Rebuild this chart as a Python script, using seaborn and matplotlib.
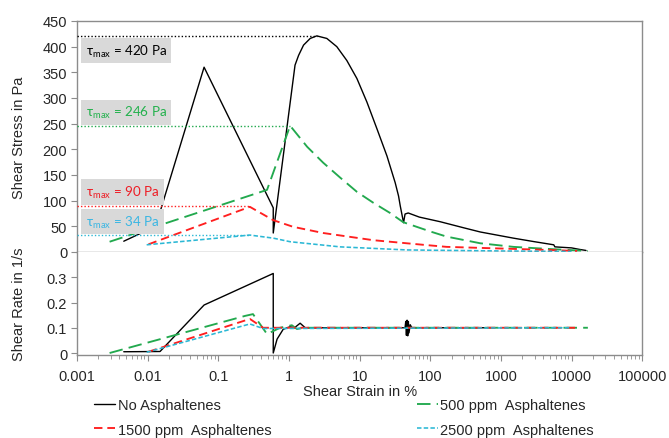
import matplotlib
matplotlib.use("Agg")
import matplotlib.pyplot as plt
import seaborn as sns

# Shear stress curves (strain in %, stress in Pa)
strain_none = [0.0046, 0.013, 0.063, 0.6, 0.6, 1.22, 1.37, 1.61, 2.0, 2.48, 3.44, 4.76,
               6.6, 9.16, 12.7, 17.6, 24.4, 31.9, 35.6, 37.6, 41.9, 44, 48.8, 70, 138,
               300, 510, 1500, 3000, 5600, 5800, 10000, 13000, 16000]
stress_none = [21, 50, 360, 86, 37, 364, 383, 403, 416, 421, 416, 400,
               373, 338, 292, 240, 187, 135, 109, 90, 57, 74, 76, 68, 59,
               47, 39, 27, 20, 14, 10, 8, 5, 3]

strain_500 = [0.0029, 0.49, 1.04, 1.81, 3.05, 5.3, 9.2, 15.6, 27, 41.5, 100, 170, 510,
              1500, 4600, 17000]
stress_500 = [20, 121, 246, 205, 174, 145, 117, 96, 76, 58, 40, 30, 17,
              10, 6, 2]

strain_1500 = [0.0103, 0.28, 0.6, 1.15, 3.05, 15.6, 80, 170, 4600, 12000]
stress_1500 = [15, 88, 62, 49, 37, 23, 14, 10, 4, 2]

strain_2500 = [0.0097, 0.28, 0.6, 1.04, 5.3, 47, 1000, 10000]
stress_2500 = [14, 33, 27, 20, 10, 4, 2, 1]

# Shear rate curves (strain in %, rate in 1/s)
rstrain_none = [0.0046, 0.015, 0.063, 0.6, 0.6, 0.68, 0.83, 1.04, 1.2, 1.44, 1.7, 2.0,
                44, 45, 46, 47, 48, 49, 50, 52, 55, 600]
rate_none = [0.005, 0.006, 0.19, 0.315, 0.0, 0.055, 0.094, 0.104, 0.1, 0.118, 0.1, 0.1,
             0.1, 0.125, 0.07, 0.13, 0.068, 0.125, 0.08, 0.112, 0.1, 0.1]

rstrain_500 = [0.0029, 0.24, 0.31, 0.49, 0.75, 1.1, 1.3, 1.6, 17000]
rate_500 = [0.0, 0.147, 0.154, 0.075, 0.1, 0.11, 0.095, 0.1, 0.1]

rstrain_1500 = [0.0103, 0.28, 0.43, 12000]
rate_1500 = [0.005, 0.135, 0.1, 0.1]

rstrain_2500 = [0.0097, 0.28, 0.43, 9500]
rate_2500 = [0.003, 0.115, 0.097, 0.1]

# tau_max annotations
tau_max = [420, 246, 90, 34]
tau_peak_strain = [2.48, 1.04, 0.28, 0.28]
tau_box_y = [392, 272, 117, 59]

labels = ["No Asphaltenes", "500 ppm  Asphaltenes", "1500 ppm  Asphaltenes",
          "2500 ppm  Asphaltenes"]
colors = ["black", "#22a94e", "#ff1f1f", "#2bb8d5"]
text_colors = ["black", "#22b14c", "#ee1c24", "#3ab6e3"]
styles = ["-", (0, (7.2, 3.3)), (0, (4.5, 2.6)), (0, (2.8, 1.4))]
widths = [1.0, 1.35, 1.35, 1.15]

sns.set_style("white")
plt.rcParams["font.family"] = ["Liberation Sans", "DejaVu Sans"]
plt.rcParams["mathtext.fontset"] = "custom"
plt.rcParams["mathtext.rm"] = "Lato"
spine_color = "#8c8c8c"
fs = 10.5

fig = plt.figure(figsize=(6.69, 4.39), dpi=100)
ax1 = fig.add_axes([0.115, 0.4237, 0.845, 0.5262])
ax2 = fig.add_axes([0.115, 0.189, 0.845, 0.2347], sharex=ax1)

stress_sets = [(strain_none, stress_none), (strain_500, stress_500),
               (strain_1500, stress_1500), (strain_2500, stress_2500)]
rate_sets = [(rstrain_none, rate_none), (rstrain_500, rate_500),
             (rstrain_1500, rate_1500), (rstrain_2500, rate_2500)]

for i in range(4):
    sns.lineplot(x=stress_sets[i][0], y=stress_sets[i][1], ax=ax1, sort=False,
                 estimator=None, color=colors[i], linestyle=styles[i],
                 linewidth=widths[i], label=labels[i], zorder=2)
    sns.lineplot(x=rate_sets[i][0], y=rate_sets[i][1], ax=ax2, sort=False,
                 estimator=None, color=colors[i], linestyle=styles[i],
                 linewidth=widths[i], zorder=2)

ax1.set_xscale("log")
ax1.set_xlim(0.001, 100000)
ax1.set_ylim(0, 450)
ax2.set_ylim(-0.008, 0.4)

# dotted max lines and labels
for i in range(4):
    ax1.plot([0.001, tau_peak_strain[i]], [tau_max[i], tau_max[i]], color=colors[i],
             linestyle=(0, (1, 1.5)), linewidth=1.0, zorder=3)
    ax1.text(0.0155, tau_box_y[i], "τ$_\\mathrm{max}$ = %d Pa" % tau_max[i],
             transform=ax1.get_yaxis_transform(), ha="left", va="center",
             fontsize=9.6, color=text_colors[i], family=["Lato", "DejaVu Sans"],
             zorder=5,
             bbox=dict(boxstyle="square,pad=0.35", fc="#d9d9d9", ec="none"))

for ax in (ax1, ax2):
    for s in ax.spines.values():
        s.set_color(spine_color)
        s.set_linewidth(1.0)
    ax.tick_params(axis="y", direction="out", length=4, width=0.8, color=spine_color,
                   labelsize=fs, pad=3, left=True)
ax2.spines["top"].set_visible(False)
ax1.tick_params(axis="x", which="both", bottom=False, labelbottom=False)
ax2.tick_params(axis="x", which="major", direction="out", length=4, width=0.8,
                color=spine_color, labelsize=fs, pad=6, bottom=True)
ax2.tick_params(axis="x", which="minor", direction="out", length=3, width=0.6,
                color=spine_color, bottom=True)

ax1.set_yticks([0, 50, 100, 150, 200, 250, 300, 350, 400, 450])
ax2.set_yticks([0, 0.1, 0.2, 0.3])
ax2.set_yticklabels(["0", "0.1", "0.2", "0.3"])
ax2.set_xticks([0.001, 0.01, 0.1, 1, 10, 100, 1000, 10000, 100000])
ax2.set_xticklabels(["0.001", "0.01", "0.1", "1", "10", "100", "1000", "10000", "100000"])

ax1.set_ylabel("Shear Stress in Pa", fontsize=fs)
ax2.set_ylabel("Shear Rate in 1/s", fontsize=fs)
ax1.yaxis.set_label_coords(-0.09, 0.5)
ax2.yaxis.set_label_coords(-0.09, 0.5)
ax2.set_xlabel("Shear Strain in %", fontsize=fs, labelpad=1)

handles, labs = ax1.get_legend_handles_labels()
if ax1.get_legend() is not None:
    ax1.get_legend().remove()
order = [0, 2, 1, 3]
fig.legend([handles[k] for k in order], [labs[k] for k in order], ncol=2,
           loc="upper left", bbox_to_anchor=(0.141, 0.091), frameon=False,
           fontsize=fs, handlelength=1.45, handletextpad=0.15, columnspacing=10.0,
           labelspacing=0.72, borderpad=0, borderaxespad=0)

fig.savefig("out.png", dpi=100)
